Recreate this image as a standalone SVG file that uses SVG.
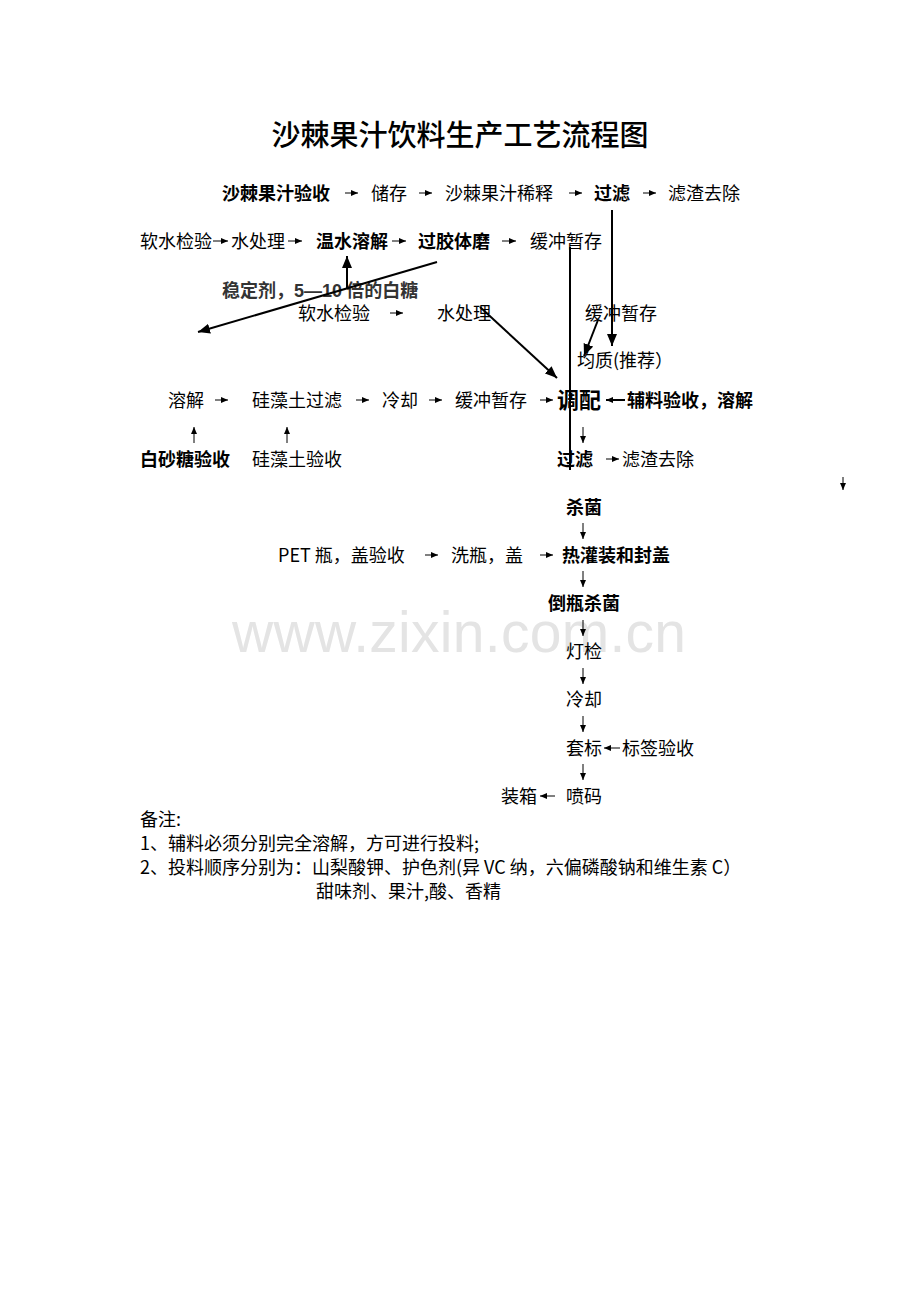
<svg xmlns="http://www.w3.org/2000/svg" width="920" height="1302" viewBox="0 0 920 1302">
<defs>
<marker id="big" markerUnits="userSpaceOnUse" markerWidth="12" markerHeight="10" refX="12" refY="5" orient="auto"><path d="M0,0 L12,5 L0,10 z" fill="#000"/></marker>
<marker id="sm" markerUnits="userSpaceOnUse" markerWidth="7" markerHeight="6" refX="7" refY="3" orient="auto"><path d="M0,0 L7,3 L0,6 z" fill="#000"/></marker>
<style>
text{font-family:"Noto Sans CJK SC","Liberation Sans",sans-serif;font-size:18px;fill:#000}
.b{font-weight:700}
.t{font-size:29px;font-weight:500}
.wm{font-family:"Liberation Sans",sans-serif;font-size:57px;fill:#e4e4e4}
.big{stroke:#000;stroke-width:2;fill:none;marker-end:url(#big)}
.pl{stroke:#000;stroke-width:2;fill:none}
.sa{stroke:#000;stroke-width:1;fill:none;marker-end:url(#sm)}
.sab{stroke:#000;stroke-width:2;fill:none;marker-end:url(#sm)}
</style>
</defs>
<rect width="920" height="1302" fill="#fff"/>
<text class="wm" x="232" y="652" textLength="454">www.zixin.com.cn</text>
<text id="title" class="t" x="460" y="146" text-anchor="middle">沙棘果汁饮料生产工艺流程图</text>

<g id="row1">
<text class="b" x="222" y="200">沙棘果汁验收</text>
<text x="371" y="200">储存</text>
<text x="445" y="200">沙棘果汁稀释</text>
<text class="b" x="594" y="200">过滤</text>
<text x="668" y="200">滤渣去除</text>
</g>
<g id="row2">
<text x="140" y="248">软水检验</text>
<text x="231" y="248">水处理</text>
<text class="b" x="316" y="248">温水溶解</text>
<text class="b" x="418" y="248">过胶体磨</text>
<text x="530" y="248">缓冲暂存</text>
</g>
<g id="stabilizer"><text class="b" x="222" y="297" style="fill:#333">稳定剂，<tspan font-family="Liberation Sans">5—10</tspan> 倍的白糖</text></g>
<g id="row4">
<text x="298" y="320">软水检验</text>
<text x="437" y="320">水处理</text>
<text x="585" y="320">缓冲暂存</text>
</g>
<g id="homog"><text x="577" y="367">均质(推荐）</text></g>
<g id="row5">
<text x="168" y="407">溶解</text>
<text x="252" y="407">硅藻土过滤</text>
<text x="382" y="407">冷却</text>
<text x="455" y="407">缓冲暂存</text>
<text class="b" x="557" y="408" style="font-size:22px">调配</text>
<text class="b" x="627" y="407">辅料验收，溶解</text>
</g>
<g id="row6">
<text class="b" x="140" y="466">白砂糖验收</text>
<text x="252" y="466">硅藻土验收</text>
<text class="b" x="557" y="466">过滤</text>
<text x="622" y="466">滤渣去除</text>
</g>
<g id="sterilize"><text class="b" x="566" y="514">杀菌</text></g>
<g id="row8">
<text x="278" y="562">PET 瓶，盖验收</text>
<text x="451" y="562">洗瓶，盖</text>
<text class="b" x="562" y="562">热灌装和封盖</text>
</g>
<g id="invert"><text class="b" x="548" y="610">倒瓶杀菌</text></g>
<g id="inspect"><text x="566" y="658">灯检</text></g>
<g id="cool"><text x="566" y="706">冷却</text></g>
<g id="label">
<text x="566" y="755">套标</text>
<text x="622" y="755">标签验收</text>
</g>
<g id="pack">
<text x="501" y="803">装箱</text>
<text x="566" y="803">喷码</text>
</g>
<g id="notes">
<text x="140" y="826">备注:</text>
<text x="140" y="850">1、辅料必须分别完全溶解，方可进行投料;</text>
<text x="140" y="874">2、投料顺序分别为：山梨酸钾、护色剂(异 VC 纳，六偏磷酸钠和维生素 C）</text>
<text x="316" y="898">甜味剂、果汁,酸、香精</text>
</g>

<g id="connectors">
<line class="sa" x1="345" y1="193" x2="358" y2="193"/>
<line class="sa" x1="419" y1="193" x2="432" y2="193"/>
<line class="sa" x1="569" y1="193" x2="582" y2="193"/>
<line class="sa" x1="643" y1="193" x2="656" y2="193"/>
<line class="sa" x1="213" y1="241" x2="228" y2="241"/>
<line class="sa" x1="288" y1="241" x2="302" y2="241"/>
<line class="sa" x1="392" y1="241" x2="406" y2="241"/>
<line class="sa" x1="502" y1="241" x2="516" y2="241"/>
<line class="sa" x1="390" y1="313" x2="403" y2="313"/>
<line class="sa" x1="215" y1="400" x2="228" y2="400"/>
<line class="sa" x1="356" y1="400" x2="369" y2="400"/>
<line class="sa" x1="429" y1="400" x2="442" y2="400"/>
<line class="sa" x1="540" y1="400" x2="553" y2="400"/>
<line class="sab" x1="625" y1="400" x2="606" y2="400"/>
<line class="sa" x1="194" y1="443" x2="194" y2="427"/>
<line class="sa" x1="287" y1="443" x2="287" y2="427"/>
<line class="sa" x1="583" y1="427" x2="583" y2="443"/>
<line class="sa" x1="606" y1="459" x2="619" y2="459"/>
<line class="sa" x1="843" y1="477" x2="843" y2="490"/>
<line class="sa" x1="583" y1="523" x2="583" y2="539"/>
<line class="sa" x1="425" y1="555" x2="438" y2="555"/>
<line class="sa" x1="540" y1="555" x2="553" y2="555"/>
<line class="sa" x1="583" y1="571" x2="583" y2="587"/>
<line class="sa" x1="583" y1="620" x2="583" y2="636"/>
<line class="sa" x1="583" y1="668" x2="583" y2="684"/>
<line class="sa" x1="583" y1="716" x2="583" y2="732"/>
<line class="sa" x1="620" y1="748" x2="604" y2="748"/>
<line class="sa" x1="583" y1="764" x2="583" y2="780"/>
<line class="sa" x1="555" y1="796" x2="540" y2="796"/>
<line class="big" x1="612" y1="210" x2="612" y2="346"/>
<line class="pl" x1="570" y1="247" x2="570" y2="470"/>
<line class="big" x1="598" y1="320" x2="584" y2="356"/>
<line class="big" x1="480" y1="307" x2="557" y2="378"/>
<line class="big" x1="437" y1="262" x2="198" y2="332"/>
<line class="big" x1="347" y1="288" x2="347" y2="256"/>
</g>
</svg>
